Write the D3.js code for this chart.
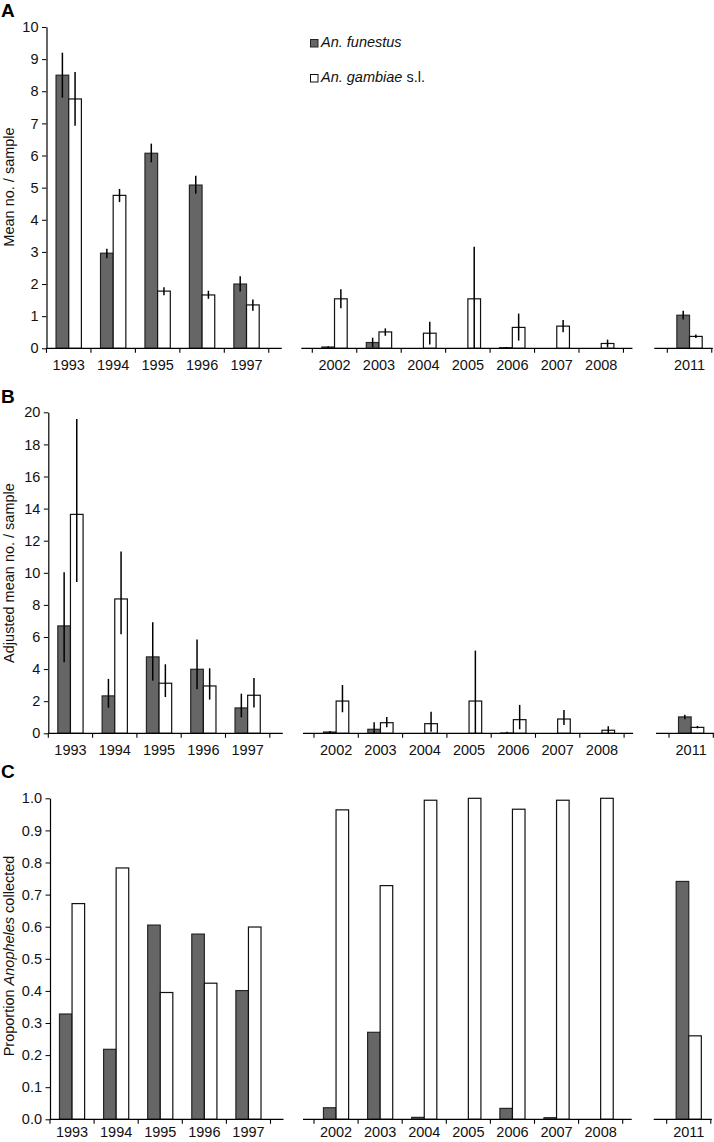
<!DOCTYPE html>
<html>
<head>
<meta charset="utf-8">
<script src="https://cdn.jsdelivr.net/npm/d3@7/dist/d3.min.js"></script>
<style>
  html, body { margin: 0; padding: 0; background: #fff; }
  svg text { font-family: "Liberation Sans", Arial, sans-serif; }
</style>
</head>
<body>
<svg id="chart" width="714" height="1142"></svg>
<script>
// ---------- DATA ----------
const years1 = ["1993", "1994", "1995", "1996", "1997"];
const years2 = ["2002", "2003", "2004", "2005", "2006", "2007", "2008"];
const years3 = ["2011"];
const years = years1.concat(years2, years3);

// Panel A: mean number per sample
const funestusA    = [8.5, 2.96, 6.07, 5.08, 2.0, 0.04, 0.18, 0, 0, 0.02, 0, 0, 1.03];
const funestusALo  = [7.8, 2.8, 5.79, 4.81, 1.77, 0.02, 0.03, null, null, 0, null, null, 0.9];
const funestusAHi  = [9.2, 3.1, 6.37, 5.37, 2.24, 0.06, 0.33, null, null, 0.04, null, null, 1.17];
const gambiaeA     = [7.76, 4.76, 1.78, 1.66, 1.35, 1.54, 0.51, 0.47, 1.54, 0.65, 0.69, 0.15, 0.37];
const gambiaeALo   = [6.93, 4.55, 1.65, 1.54, 1.17, 1.25, 0.39, 0.12, 0, 0.24, 0.5, 0.03, 0.32];
const gambiaeAHi   = [8.6, 4.96, 1.9, 1.79, 1.52, 1.84, 0.62, 0.83, 3.16, 1.08, 0.88, 0.27, 0.43];

// Panel B: adjusted mean number per sample
const funestusB    = [6.69, 2.33, 4.76, 3.99, 1.58, 0.08, 0.25, 0, 0, 0.02, 0, 0, 1.02];
const funestusBLo  = [4.42, 1.6, 3.28, 2.74, 1.0, 0.02, 0, null, null, 0, null, null, 0.87];
const funestusBHi  = [10.03, 3.39, 6.92, 5.84, 2.47, 0.15, 0.69, null, null, 0.1, null, null, 1.16];
const gambiaeB     = [13.64, 8.37, 3.12, 2.95, 2.37, 2.01, 0.66, 0.6, 2.01, 0.85, 0.89, 0.19, 0.37];
const gambiaeBLo   = [9.43, 6.17, 2.26, 2.1, 1.6, 1.31, 0.37, 0.1, 0, 0.25, 0.52, 0, 0.31];
const gambiaeBHi   = [19.58, 11.32, 4.3, 4.05, 3.45, 3.01, 1.02, 1.35, 5.15, 1.77, 1.45, 0.44, 0.46];

// Panel C: proportion of Anopheles collected
const funestusC    = [0.328, 0.218, 0.605, 0.577, 0.401, 0.036, 0.271, 0.006, 0, 0.034, 0.005, 0, 0.741];
const gambiaeC     = [0.672, 0.783, 0.395, 0.424, 0.599, 0.964, 0.728, 0.994, 1.0, 0.966, 0.994, 1.0, 0.26];

const ticksA = d3.range(0, 11, 1);
const ticksB = d3.range(0, 21, 2);
const ticksC = d3.range(0, 11, 1).map(d => d / 10);

// ---------- DRAW ----------
const svg = d3.select("#chart");
const FS = 14.5;
const darkFill = "#666666", darkStroke = "#262626";

const panels = [
  { label: "A", labelY: 16.7, top: 27, bottom: 348.3, max: 10, ticks: ticksA, fmt: d3.format("d"),
    x1: 46.5, x2: 312.3, x3: 667.3, bw: 44.45, xpad: 11,
    f: funestusA, fLo: funestusALo, fHi: funestusAHi, g: gambiaeA, gLo: gambiaeALo, gHi: gambiaeAHi,
    ylab: [{t: "Mean no. / sample"}], ylabY: 187 },
  { label: "B", labelY: 402.5, top: 412.3, bottom: 733.3, max: 20, ticks: ticksB, fmt: d3.format("d"),
    x1: 48.3, x2: 314, x3: 669, bw: 44.3, xpad: 11,
    f: funestusB, fLo: funestusBLo, fHi: funestusBHi, g: gambiaeB, gLo: gambiaeBLo, gHi: gambiaeBHi,
    ylab: [{t: "Adjusted mean no. / sample"}], ylabY: 573 },
  { label: "C", labelY: 778, top: 798.3, bottom: 1119.3, max: 1, ticks: ticksC, fmt: d3.format(".1f"),
    x1: 50, x2: 314, x3: 666.7, bw: 44.1, xpad: 7,
    f: funestusC, g: gambiaeC,
    ylab: [{t: "Proportion "}, {t: "Anopheles", it: true}, {t: " collected"}], ylabY: 956 }
];

panels.forEach(p => {
  const g = svg.append("g");
  const y = d3.scaleLinear().domain([0, p.max]).range([p.bottom, p.top]);

  const segs = [
    { dom: years1, start: p.x1, ovL: 0, ovR: 13 },
    { dom: years2, start: p.x2, ovL: 11, ovR: 9 },
    { dom: years3, start: p.x3, ovL: 13, ovR: 1 }
  ];
  const xOf = {};
  segs.forEach(s => {
    s.scale = d3.scaleBand().domain(s.dom).range([s.start, s.start + s.dom.length * p.bw]).padding(0);
    s.dom.forEach(d => xOf[d] = s.scale);
  });

  // bars
  const bwBar = p.bw * 0.285;
  years.forEach((yr, i) => {
    const sc = xOf[yr];
    const left = sc(yr) + (sc.bandwidth() - 2 * bwBar) / 2;
    const series = [
      { v: p.f[i], lo: p.fLo ? p.fLo[i] : null, hi: p.fHi ? p.fHi[i] : null, x: left, fill: darkFill, stroke: darkStroke },
      { v: p.g[i], lo: p.gLo ? p.gLo[i] : null, hi: p.gHi ? p.gHi[i] : null, x: left + bwBar, fill: "#ffffff", stroke: "#111" }
    ];
    series.forEach(s => {
      if (s.v > 0) {
        g.append("rect")
          .attr("x", s.x).attr("y", y(s.v))
          .attr("width", bwBar).attr("height", y(0) - y(s.v))
          .attr("fill", s.fill).attr("stroke", s.stroke).attr("stroke-width", 1.2);
      }
      if (s.lo !== null && s.hi !== null && s.hi > s.lo) {
        g.append("line")
          .attr("x1", s.x + bwBar / 2).attr("x2", s.x + bwBar / 2)
          .attr("y1", y(s.lo)).attr("y2", y(s.hi))
          .attr("stroke", "#000").attr("stroke-width", 1.5);
      }
    });
  });

  // x axes (segment lines, boundary ticks, labels)
  segs.forEach(s => {
    const r = s.scale.range();
    g.append("line")
      .attr("x1", r[0] - s.ovL).attr("x2", r[1] + s.ovR)
      .attr("y1", y(0)).attr("y2", y(0))
      .attr("stroke", "#000").attr("stroke-width", 1.2);
    const bounds = s.dom.map(d => s.scale(d)).concat([r[1]]);
    bounds.forEach(bx => {
      g.append("line")
        .attr("x1", bx).attr("x2", bx)
        .attr("y1", y(0)).attr("y2", y(0) + 4.5)
        .attr("stroke", "#000").attr("stroke-width", 1.1);
    });
    const ax = g.append("g")
      .attr("transform", `translate(0,${y(0)})`)
      .call(d3.axisBottom(s.scale).tickSize(0).tickPadding(p.xpad));
    ax.select(".domain").remove();
    ax.selectAll("text").attr("font-size", FS).attr("fill", "#111")
      .style("font-family", '"Liberation Sans", Arial, sans-serif');
  });

  // y axis
  const ya = g.append("g")
    .attr("transform", `translate(${p.x1},0)`)
    .call(d3.axisLeft(y).tickValues(p.ticks).tickFormat(p.fmt).tickSize(4.5).tickSizeOuter(0).tickPadding(3.5));
  ya.select(".domain").attr("stroke-width", 1.2);
  ya.selectAll("text").attr("font-size", FS).attr("fill", "#111")
    .style("font-family", '"Liberation Sans", Arial, sans-serif');

  // y label
  const yl = g.append("text")
    .attr("transform", `translate(14,${p.ylabY}) rotate(-90)`)
    .attr("text-anchor", "middle")
    .attr("font-size", 14.5)
    .attr("fill", "#111");
  p.ylab.forEach(part => {
    yl.append("tspan").text(part.t).attr("font-style", part.it ? "italic" : "normal");
  });

  // panel label
  g.append("text")
    .attr("x", 1).attr("y", p.labelY)
    .attr("font-size", 19).attr("font-weight", "bold")
    .attr("fill", "#000")
    .text(p.label);
});

// legend
const leg = svg.append("g");
leg.append("rect").attr("x", 310.5).attr("y", 39.5).attr("width", 7.5).attr("height", 7.5)
  .attr("fill", darkFill).attr("stroke", darkStroke).attr("stroke-width", 1);
leg.append("text").attr("x", 321).attr("y", 47).attr("font-size", 14.5).attr("font-style", "italic")
  .attr("fill", "#111").text("An. funestus");
leg.append("rect").attr("x", 310.5).attr("y", 74.5).attr("width", 7.5).attr("height", 7.5)
  .attr("fill", "#fff").attr("stroke", "#111").attr("stroke-width", 1);
const lt = leg.append("text").attr("x", 321).attr("y", 82).attr("font-size", 14.5).attr("fill", "#111");
lt.append("tspan").attr("font-style", "italic").text("An. gambiae");
lt.append("tspan").text(" s.l.");
</script>
</body>
</html>
